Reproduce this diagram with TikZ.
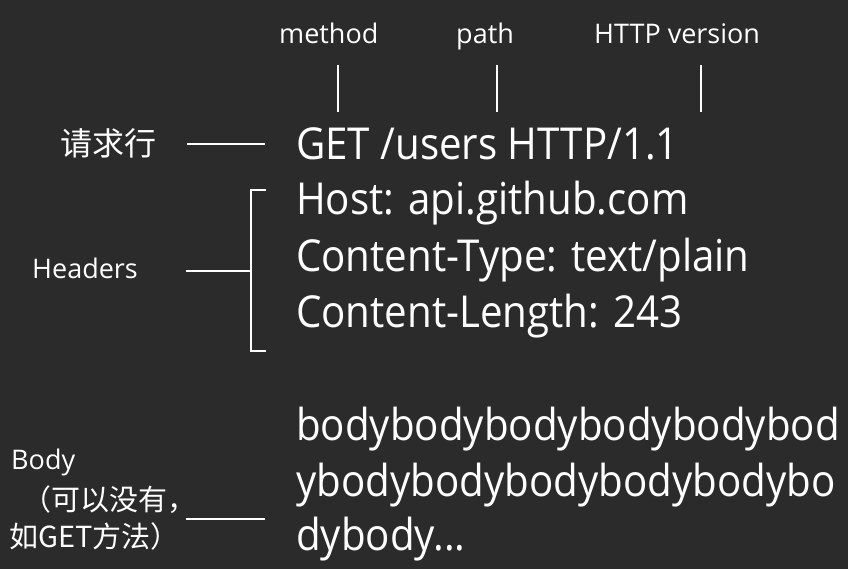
\documentclass[tikz,border=0pt]{standalone}
\usepackage{fontspec}
\setmainfont{Open Sans}
\newfontfamily\bigfont[FakeStretch=0.915]{Open Sans}
\newfontfamily\cjk{Noto Sans CJK SC}
\definecolor{bg}{HTML}{2B2B2B}
\begin{document}
\begin{tikzpicture}[x=1pt,y=-1pt,
  lbl/.style={text=white,inner sep=0pt,anchor=base west,font=\fontsize{27}{30}\selectfont},
  cjklbl/.style={text=white,inner sep=0pt,anchor=base west,font=\cjk\fontsize{29}{32}\selectfont},
  big/.style={text=white,inner sep=0pt,anchor=base west,font=\bigfont\fontsize{44}{50}\selectfont},
  wire/.style={draw=white,line width=2pt}]
\fill[bg] (0,0) rectangle (848,569);
\useasboundingbox (0,0) rectangle (848,569);
% top labels
\node[lbl] (method) at (279,44) {method};
\node[lbl] (path) at (456,44) {path};
\node[lbl] (ver) at (594,44) {HTTP version};
\coordinate (m1) at (338,65); \coordinate (m2) at (338,112);
\coordinate (p1) at (497,65); \coordinate (p2) at (497,112);
\coordinate (v1) at (701,65); \coordinate (v2) at (701,112);
\draw[wire] (m1) -- (m2);
\draw[wire] (p1) -- (p2);
\draw[wire] (v1) -- (v2);
% message
\node[big] (req) at (296,160) {GET /users HTTP/1.1};
\node[big] (h1) at (296,215) {Host: api.github.com};
\node[big] (h2) at (296,271) {Content-Type: text/plain};
\node[big] (h3) at (296,327) {Content-Length: 243};
\node[big] (b1) at (296,440) {bodybodybodybodybodybod};
\node[big] (b2) at (296,496) {ybodybodybodybodybodybo};
\node[big] (b3) at (296,550) {dybody...};
% left labels
\node[lbl,font=\cjk\fontsize{32}{36}\selectfont] (reqlbl) at (60,156) {请求行};
\node[lbl] (hdr) at (32,278) {Headers};
\node[lbl] (body) at (11,469) {Body};
\node[cjklbl] (bn1) at (22,510) {（可以没有，};
\node[cjklbl] (bn2) at (9,547) {如GET方法）};
% connectors
\coordinate (r1) at (187,144); \coordinate (r2) at (265,144);
\draw[wire] (r1) -- (r2);
\coordinate (hl) at (186,271); \coordinate (hb) at (251,271);
\coordinate (bt) at (266,190); \coordinate (bb) at (266,351);
\draw[wire] (hl) -- (hb);
\draw[wire] (bt) -- (251,190) -- (251,351) -- (bb);
\coordinate (bl1) at (186,519); \coordinate (bl2) at (265,519);
\draw[wire] (bl1) -- (bl2);
\end{tikzpicture}
\end{document}
